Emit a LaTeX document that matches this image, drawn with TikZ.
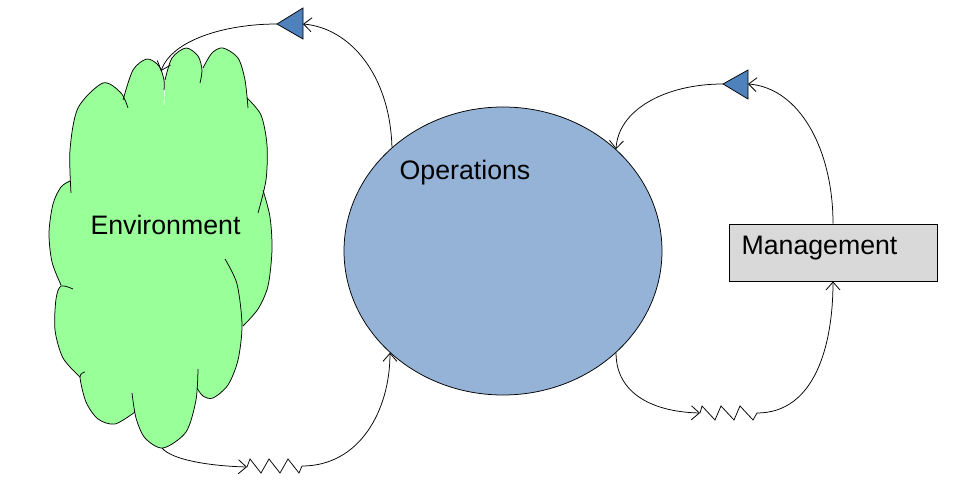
\documentclass[tikz,border=0pt]{standalone}
\usepackage{fontspec}
\setmainfont{Liberation Sans}
\usetikzlibrary{shapes.geometric,arrows.meta}
\definecolor{cloudgreen}{HTML}{99FF99}
\definecolor{opsblue}{HTML}{95B3D7}
\definecolor{trisblue}{HTML}{4F81BD}
\definecolor{mgmtgray}{HTML}{D9D9D9}
\tikzset{
  conn/.style={line width=0.75pt, -{Straight Barb[length=8pt,width=14pt,line width=0.8pt]}},
  plainconn/.style={line width=0.75pt},
  lbl/.style={inner sep=0pt, font=\fontsize{26.7}{30}\selectfont},
  trishape/.style={fill=trisblue, draw=black, line width=0.75pt, line join=miter},
  lobe/.style={draw=black, line width=0.75pt},
}
\begin{document}
\begin{tikzpicture}[x=1pt,y=-1pt]
\useasboundingbox (0,0) rectangle (960,486);
% ---------- cloud (Environment) ----------
\def\lobeA{(71,193) (70,150) (78,108) (103,83) (121,93) (128,108)}
\def\lobeB{(123,100) (133,70) (147,59) (159,66) (164,80) (164,90)}
\def\lobeC{(165,80) (172,58) (186,48) (198,56) (202,70) (200,83)}
\def\lobeD{(203,68) (212,53) (223,48) (238,58) (245,80) (248,108)}
\def\lobeE{(247,98) (261,115) (267,145) (266,180) (258,213)}
\def\lobeF{(263,190) (270,217) (272,250) (268,286) (258,309) (243,326)}
\def\lobeG{(225,259) (237,284) (242,325) (238,360) (228,385) (213,398) (203,396) (197,388)}
\def\lobeH{(198,369) (196,400) (186,432) (163,448) (145,438) (136,418) (132,393)}
\def\lobeI{(135,412) (115,424) (98,419) (86,402) (80,377) (85,372)}
\def\lobeJ{(80,377) (63,358) (55,330) (56,299) (61,286) (73,289)}
\def\lobeK{(61,285) (52,262) (49,233) (53,204) (61,187) (70,181)}
\foreach \L in {\lobeA,\lobeB,\lobeC,\lobeD,\lobeE,\lobeF,\lobeG,\lobeH,\lobeI,\lobeJ,\lobeK}{
  \fill[cloudgreen] (160,250) -- plot[smooth] coordinates \L -- cycle;
}
\fill[cloudgreen] (75,190) -- (125,105) -- (250,105) -- (265,210) -- (240,330) -- (200,380) -- (135,400) -- (80,370) -- (60,285) -- cycle;
\foreach \L in {\lobeA,\lobeB,\lobeC,\lobeD,\lobeE,\lobeF,\lobeG,\lobeH,\lobeI,\lobeJ,\lobeK}{
  \draw[lobe] plot[smooth] coordinates \L;
}
\node[lbl, anchor=base] (env) at (165.5,234) {Environment};
\coordinate (envtop) at (161,71);
\coordinate (envbot) at (162,448);
% ---------- Operations ----------
\node[ellipse, draw=black, line width=0.75pt, fill=opsblue, minimum width=318pt, minimum height=288pt, inner sep=0pt] (ops) at (503,251) {};
\node[lbl, anchor=base] (opslbl) at (465,179.3) {Operations};
% ---------- Management ----------
\node[rectangle, draw=black, line width=0.75pt, fill=mgmtgray, minimum width=208pt, minimum height=57pt, inner sep=0pt] (mgmt) at (833,252.5) {};
\node[lbl, anchor=base] (mgmtlbl) at (819.5,254.5) {Management};
% ---------- triangles ----------
\coordinate (t1tip) at (277,24);
\coordinate (t1back) at (303,24);
\draw[trishape] (t1tip) -- (303,8) -- (303,39) -- cycle;
\coordinate (t2tip) at (723,84);
\coordinate (t2back) at (748,84);
\draw[trishape] (t2tip) -- (748,70) -- (748,99) -- cycle;
% ---------- zigzags ----------
\coordinate (z1a) at (247,467);
\coordinate (z1b) at (302,466);
\draw[plainconn, line join=miter] (z1a) -- (250,459) -- (261,473) -- (269,459) -- (280,473) -- (288,459) -- (299,473) -- (z1b);
\coordinate (z2a) at (700,413);
\coordinate (z2b) at (757,413);
\draw[plainconn, line join=miter] (z2a) -- (702,406) -- (715,420) -- (721,406) -- (734,420) -- (740,406) -- (753,420) -- (z2b);
% ---------- connectors ----------
\draw[conn] (ops.137.6) .. controls (390,75) and (350,28) .. (t1back);
\draw[conn] (t1tip) .. controls (225,24) and (172,40) .. (envtop);
\draw[conn] (envbot) .. controls (172,460) and (210,466) .. (z1a);
\draw[conn] (z1b) .. controls (360,466) and (390,410) .. (ops.222);
\draw[conn] (ops.318) .. controls (616,395) and (655,412) .. (z2a);
\draw[conn] (z2b) .. controls (815,413) and (833,345) .. (mgmt.south);
\draw[conn] (mgmt.north) .. controls (833,150) and (800,88) .. (t2back);
\draw[conn] (t2tip) .. controls (665,84) and (618,110) .. (ops.42.6);
\end{tikzpicture}
\end{document}
